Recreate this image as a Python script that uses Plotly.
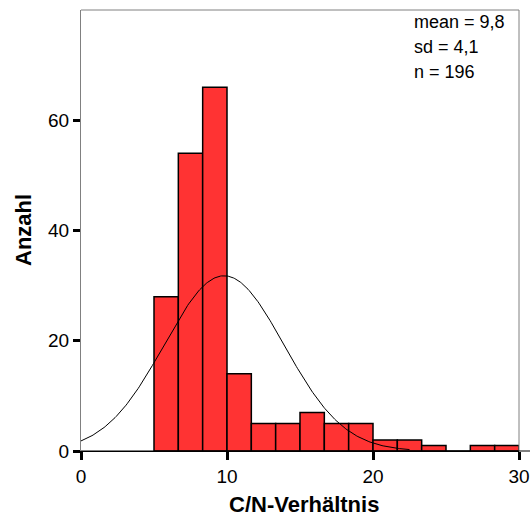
import numpy as np
import plotly.graph_objects as go

# Data
bin_start = 5.0
bin_width = 5.0 / 3.0
counts = [28, 54, 66, 14, 5, 5, 7, 5, 5, 2, 2, 1, 0, 1, 1]
stat_mean = 9.8
stat_sd = 4.1
stat_n = 196
curve_range = [0.0, 22.5]
x_ticks = [0, 10, 20, 30]
y_ticks = [0, 20, 40, 60]
stat_lines = ["mean = 9,8", "sd = 4,1", "n = 196"]

edges = bin_start + bin_width * np.arange(len(counts) + 1)
centers = (edges[:-1] + edges[1:]) / 2

xs = np.linspace(curve_range[0], curve_range[1], 300)
ys = stat_n * bin_width / (stat_sd * np.sqrt(2 * np.pi)) * np.exp(-0.5 * ((xs - stat_mean) / stat_sd) ** 2)

W, H = 531, 518
PL, PR, PT, PB = 81, 519, 10, 451
L, T = PL, PT
R = W - PR
B = H - PB
pw = PR - PL
ph = PB - PT


def px(xpage):
    return (xpage - PL) / pw


def py(ypage):
    return (PB - ypage) / ph


fig = go.Figure()
fig.add_trace(go.Bar(
    x=centers, y=counts, width=bin_width,
    marker=dict(color="#FF3333", line=dict(color="black", width=1.5)),
    hoverinfo="skip",
))
fig.add_trace(go.Scatter(
    x=xs, y=ys, mode="lines",
    line=dict(color="black", width=1),
    hoverinfo="skip",
))

font = "Liberation Sans, Arial, sans-serif"
fig.update_layout(
    width=W, height=H, autosize=False,
    margin=dict(l=L, r=R, t=T, b=B),
    paper_bgcolor="white", plot_bgcolor="white",
    showlegend=False,
    bargap=0,
    font=dict(family=font, size=19, color="black"),
    xaxis=dict(
        range=[0, 30], tickvals=x_ticks, ticks="outside", ticklen=8, tickwidth=3,
        tickcolor="black", showgrid=False, zeroline=False, automargin=False,
        showline=True, linecolor="black", linewidth=1,
        tickfont=dict(size=19, family=font),
    ),
    yaxis=dict(
        range=[0, 80], tickvals=y_ticks, ticks="outside", ticklen=7, tickwidth=3,
        tickcolor="black", showgrid=False, zeroline=False, automargin=False,
        showline=True, linecolor="#808080", linewidth=1,
        tickfont=dict(size=19, family=font),
    ),
)

# gray frame (top and right)
fig.add_shape(type="line", xref="paper", yref="paper", x0=0, x1=1, y0=1, y1=1,
              line=dict(color="#808080", width=1))
fig.add_shape(type="line", xref="paper", yref="paper", x0=1, x1=1, y0=0, y1=1,
              line=dict(color="#808080", width=1))
# black baseline extending to the right edge
fig.add_shape(type="line", xref="paper", yref="paper", x0=0, x1=px(530), y0=0, y1=0,
              line=dict(color="black", width=1))

for i, txt in enumerate(stat_lines):
    fig.add_annotation(
        text=txt, xref="paper", yref="paper",
        x=px(412), y=py(22 + 25 * i),
        xanchor="left", yanchor="middle", showarrow=False,
        font=dict(size=18, family=font, color="black"),
    )

fig.add_annotation(
    text="<b>C/N-Verhältnis</b>", xref="paper", yref="paper",
    x=px(304), y=py(505), xanchor="center", yanchor="middle",
    showarrow=False, font=dict(size=22, family=font, color="black"),
)
fig.add_annotation(
    text="<b>Anzahl</b>", xref="paper", yref="paper",
    x=px(23), y=py(230), xanchor="center", yanchor="middle",
    textangle=-90, showarrow=False, font=dict(size=22, family=font, color="black"),
)

fig.write_html(
    "out.html",
    config={"displayModeBar": False, "responsive": False, "staticPlot": True},
    post_script=(
        "document.documentElement.style.overflow='hidden';"
        "document.body.style.margin='0';document.body.style.overflow='hidden';"
    ),
)
